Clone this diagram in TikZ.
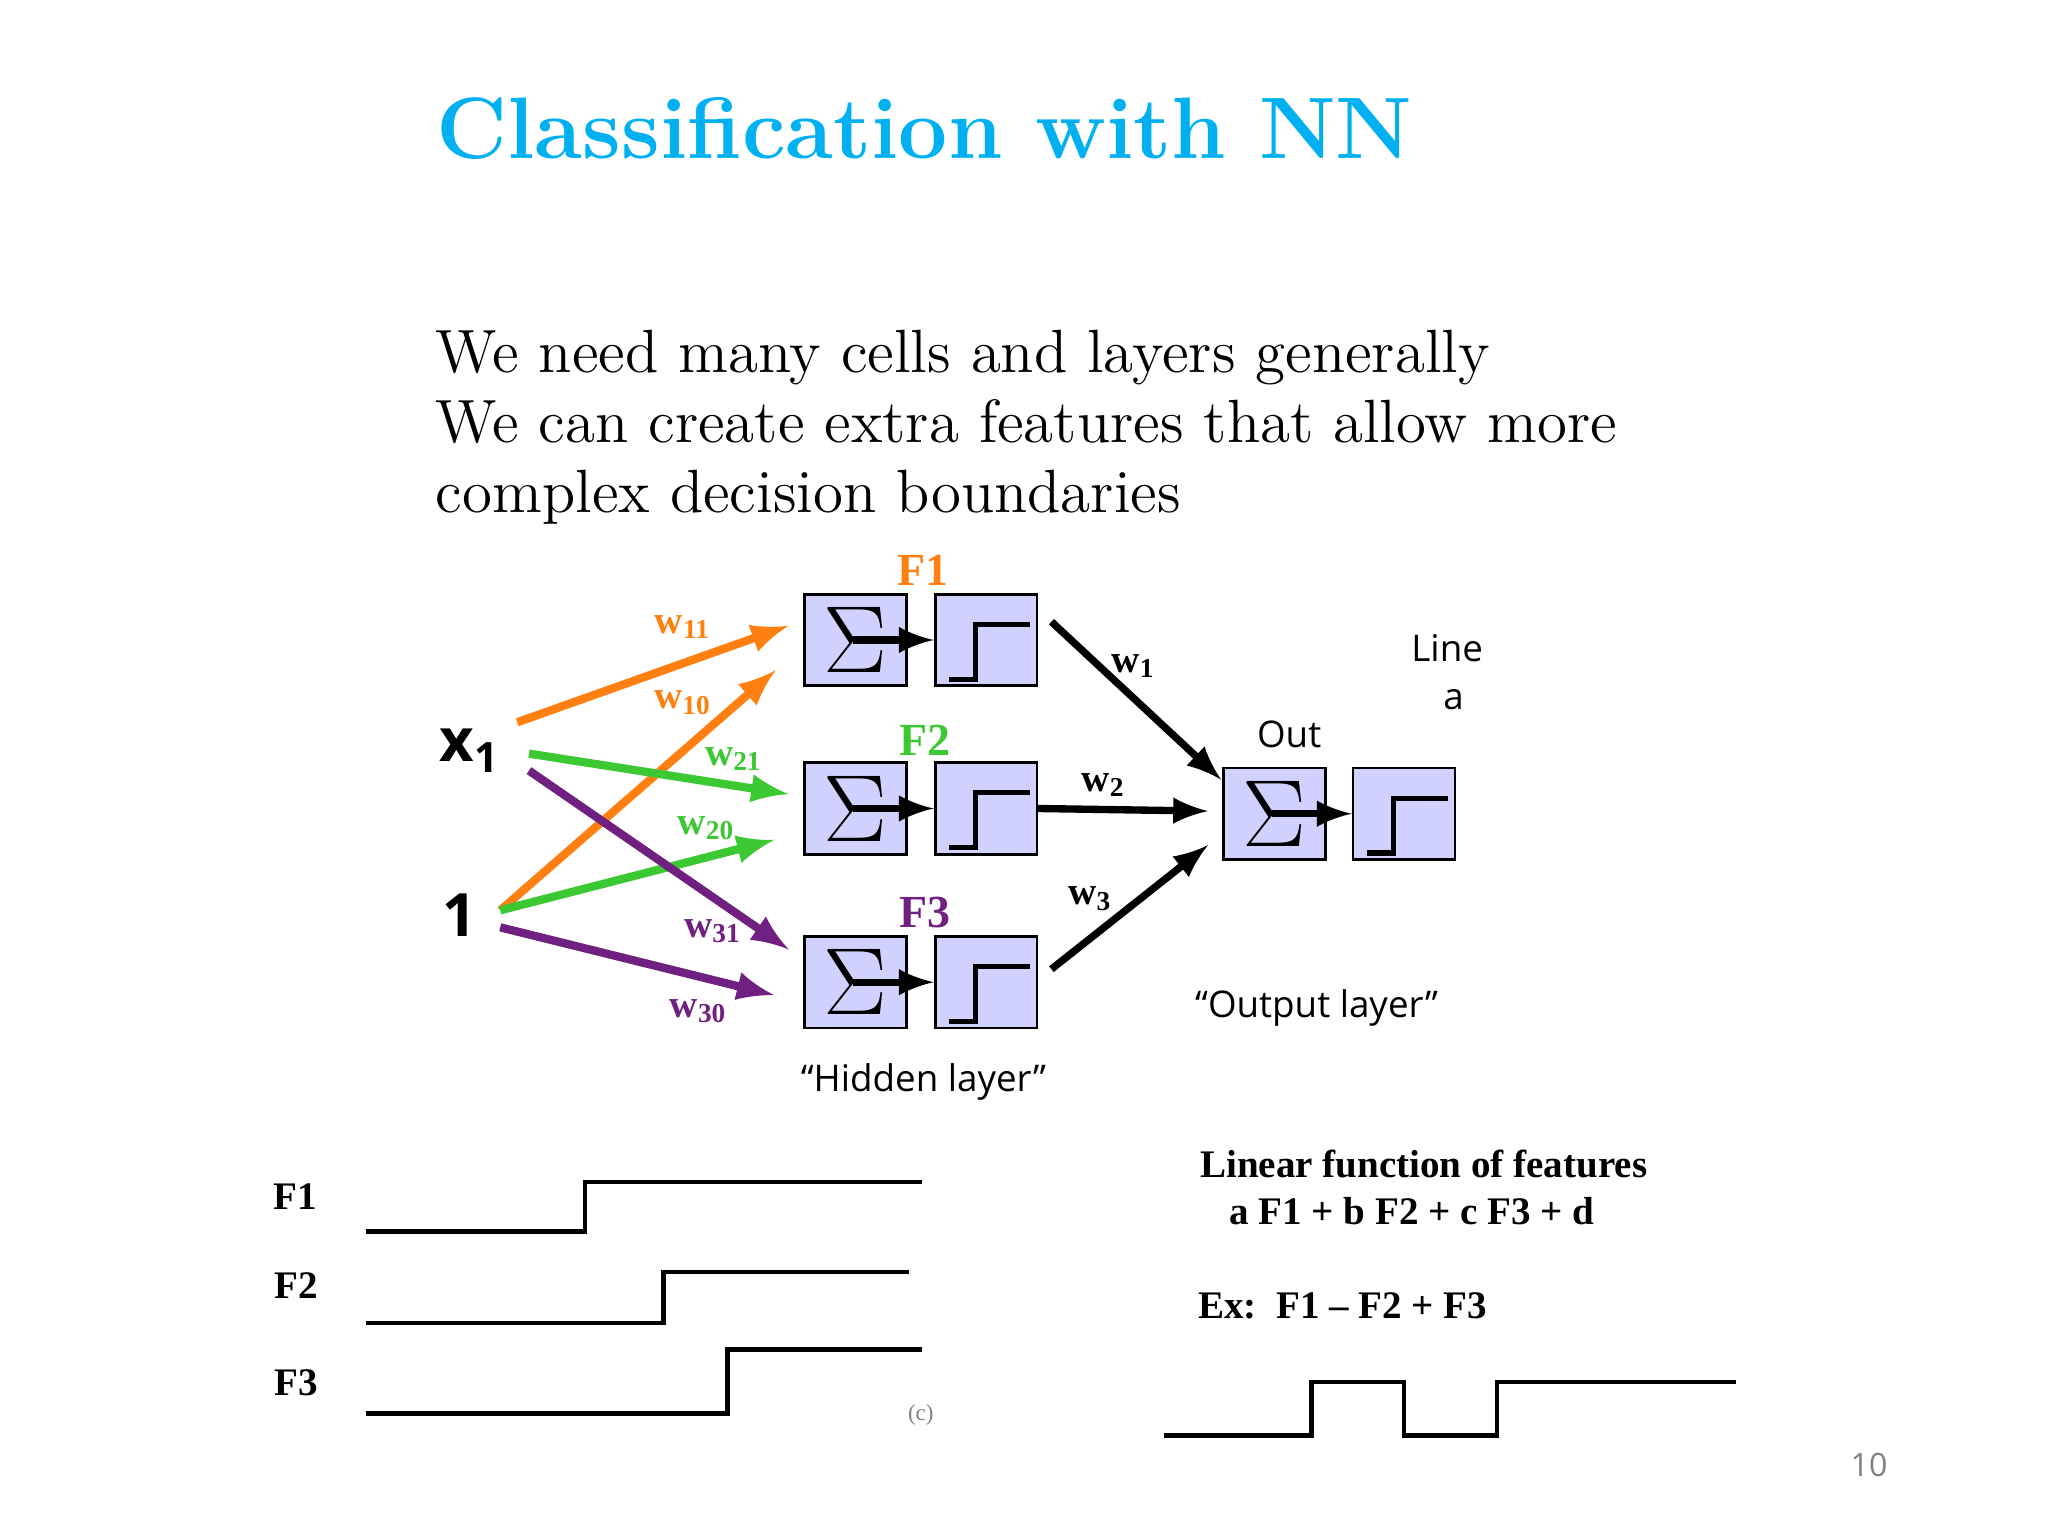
\documentclass[tikz,border=0pt]{standalone}
\usepackage{fontspec}
\newfontfamily\sans{Open Sans}
\newfontfamily\tms{Liberation Serif}
\begin{document}
\begin{tikzpicture}[x=0.01cm,y=-0.01cm,
  box/.style={draw,fill=blue!18,minimum width=0.78cm,minimum height=0.70cm,inner sep=0pt,line width=0.6pt},
  sig/.style={box,font=\fontsize{22}{22}\selectfont},
  blk/.style={-latex,line width=1.6pt},
  wl/.style={font=\tms\bfseries\fontsize{8.5}{9}\selectfont},
  fl/.style={font=\tms\bfseries\fontsize{8.5}{9}\selectfont},
  lbl/.style={font=\sans\fontsize{8}{9}\selectfont},
  wave/.style={line width=1pt}]
\useasboundingbox (0,0) rectangle (1568,1176);
\definecolor{tb}{RGB}{0,176,240}
\definecolor{orr}{RGB}{255,128,16}
\definecolor{gr}{RGB}{60,200,50}
\definecolor{pu}{RGB}{112,32,128}
\node[font=\bfseries\fontsize{19}{22}\selectfont,text=tb] (title) at (708,98) {Classification with NN};
\node[anchor=north west,align=left,font=\fontsize{13.3}{15.2}\selectfont,inner sep=0pt] (body) at (333,252) {We need many cells and layers generally\\We can create extra features that allow more\\complex decision boundaries};
% boxes
\foreach \n/\y in {1/490,2/619,3/752}{
  \node[sig] (s\n) at (655,\y) {$\Sigma$};
  \node[box] (t\n) at (755,\y) {};
  \draw[line width=1.1pt] ([shift={(12,-6)}]t\n.south west) -- ++(20,0) -- ++(0,-42) -- ++(42,0);
  \draw[blk] ([xshift=-12]s\n.east) -- (t\n.west);
}
\node[sig] (so) at (976,623) {$\Sigma$};
\node[box] (to) at (1075,623) {};
\draw[line width=1.1pt] ([shift={(12,-6)}]to.south west) -- ++(20,0) -- ++(0,-42) -- ++(42,0);
\draw[blk] ([xshift=-12]so.east) -- (to.west);
% inputs
\node[font=\sans\bfseries\fontsize{13}{13}\selectfont] (x1) at (360,575) {x\textsubscript{1}};
\node[font=\sans\bfseries\fontsize{13}{13}\selectfont] (one) at (352,701) {1};
\coordinate (a1) at (396,553); \coordinate (b1) at (604,479);
\coordinate (a2) at (383,697); \coordinate (b2) at (594,513);
\coordinate (a3) at (405,577); \coordinate (b3) at (604,608);
\coordinate (a4) at (383,697); \coordinate (b4) at (593,643);
\coordinate (a5) at (405,590); \coordinate (b5) at (604,727);
\coordinate (a6) at (383,710); \coordinate (b6) at (593,762);
\draw[-latex,orr,line width=1.8pt] (a1) -- (b1);
\draw[-latex,orr,line width=1.8pt] (a2) -- (b2);
\draw[-latex,gr,line width=1.8pt] (a3) -- (b3);
\draw[-latex,gr,line width=1.8pt] (a4) -- (b4);
\draw[-latex,pu,line width=1.8pt] (a5) -- (b5);
\draw[-latex,pu,line width=1.8pt] (a6) -- (b6);
\coordinate (c1) at (805,476); \coordinate (d1) at (935,597);
\coordinate (c2) at (794,619); \coordinate (d2) at (925,621);
\coordinate (c3) at (805,742); \coordinate (d3) at (925,647);
\draw[blk] (c1) -- (d1); \draw[blk] (c2) -- (d2); \draw[blk] (c3) -- (d3);
% weights
\node[wl,orr] (w11) at (523,480) {w\textsubscript{11}};
\node[wl,orr] (w10) at (523,538) {w\textsubscript{10}};
\node[wl,gr] (w21) at (562,581) {w\textsubscript{21}};
\node[wl,gr] (w20) at (541,634) {w\textsubscript{20}};
\node[wl,pu] (w31) at (546,713) {w\textsubscript{31}};
\node[wl,pu] (w30) at (535,774) {w\textsubscript{30}};
\node[wl] (w1) at (868,510) {w\textsubscript{1}};
\node[wl] (w2) at (845,601) {w\textsubscript{2}};
\node[wl] (w3) at (835,688) {w\textsubscript{3}};
\node[fl,orr,font=\tms\bfseries\fontsize{10}{10}\selectfont] (F1) at (707,437) {F1};
\node[fl,gr,font=\tms\bfseries\fontsize{10}{10}\selectfont] (F2) at (708,567) {F2};
\node[fl,pu,font=\tms\bfseries\fontsize{10}{10}\selectfont] (F3) at (708,699) {F3};
\node[lbl] (out) at (987,562) {Out};
\node[lbl] (line) at (1108,496) {Line};
\node[lbl] (a) at (1113,536) {a};
\node[lbl] (hid) at (707,828) {“Hidden layer”};
\node[lbl] (ol) at (1008,772) {“Output layer”};
% bottom waves
\node[fl] (g1) at (226,916) {F1};
\node[fl] (g2) at (227,984) {F2};
\node[fl] (g3) at (227,1059) {F3};
\draw[wave] (280,943) -- (448,943) -- (448,905) -- (706,905);
\draw[wave] (280,1013) -- (508,1013) -- (508,974) -- (696,974);
\draw[wave] (280,1082) -- (557,1082) -- (557,1033) -- (706,1033);
\node[font=\tms\fontsize{5}{5}\selectfont,gray] (cc) at (705,1083) {(c)};
\node[fl] (lf) at (1090,891) {Linear function of features};
\node[fl] (lf2) at (1081,927) {a F1 + b F2 + c F3 + d};
\node[fl] (ex) at (1028,1000) {Ex:\ \ F1 – F2 + F3};
\draw[wave] (891,1099) -- (1004,1099) -- (1004,1058) -- (1075,1058) -- (1075,1099) -- (1146,1099) -- (1146,1058) -- (1329,1058);
\node[font=\sans\fontsize{7}{7}\selectfont,gray] (pg) at (1431,1122) {10};
\end{tikzpicture}
\end{document}
